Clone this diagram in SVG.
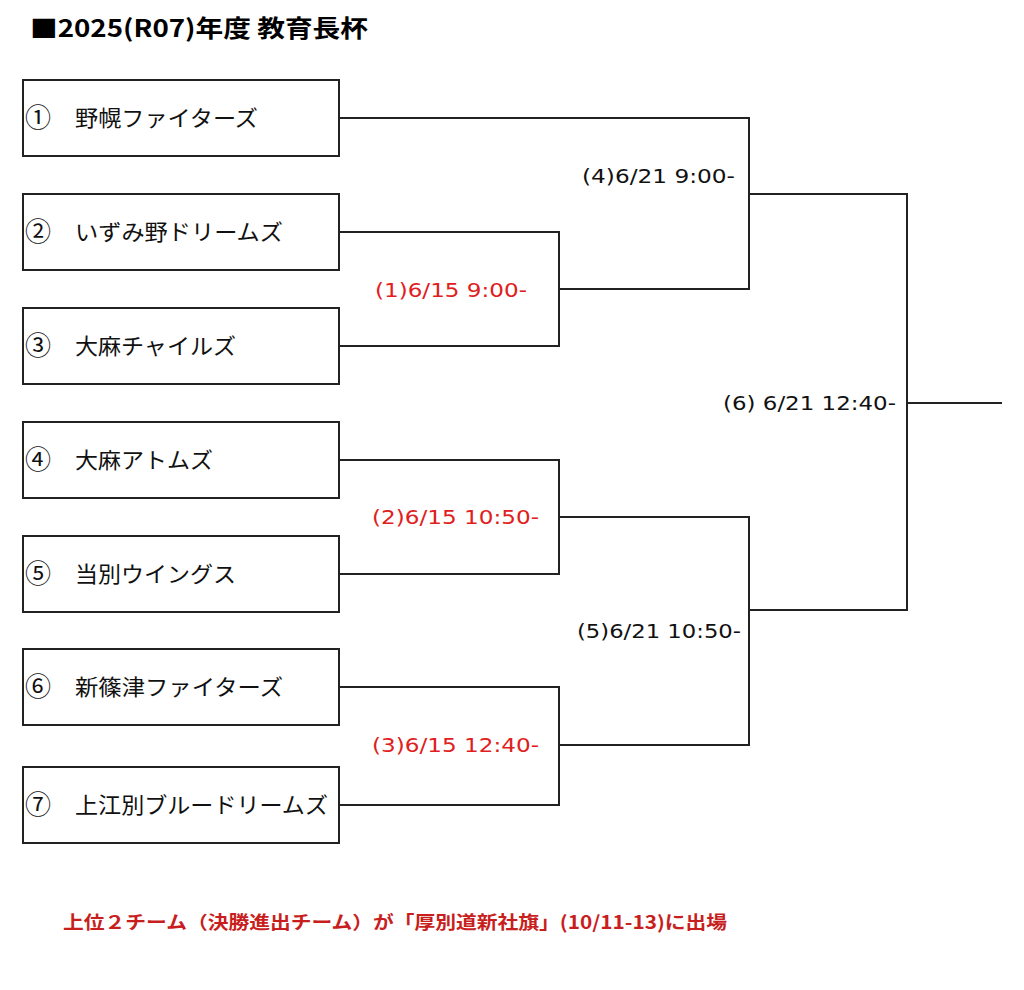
<svg xmlns="http://www.w3.org/2000/svg" width="1024" height="990" viewBox="0 0 1024 990">
<style>
.box{fill:#fff;stroke:#222;stroke-width:2}
.ln{fill:none;stroke:#222;stroke-width:2}
.team{font-family:"Noto Sans CJK JP","Noto Sans",sans-serif;font-size:22px;fill:#111}
.num{font-family:"Noto Sans CJK JP","DejaVu Sans",sans-serif;font-size:26px;fill:#111}
.lbl{font-family:"DejaVu Sans","Noto Sans",sans-serif;font-size:19px;fill:#111}
.red{fill:#e02020}
.title{font-family:"Noto Sans CJK JP",sans-serif;font-size:24px;font-weight:bold;fill:#000}
.foot{font-family:"Noto Sans CJK JP","Liberation Sans",sans-serif;font-size:18px;font-weight:bold;fill:#c81e1e}
</style>
<rect width="1024" height="990" fill="#fff"/>
<text class="title" x="30" y="37" textLength="338" lengthAdjust="spacingAndGlyphs">■2025(R07)年度 教育長杯</text>

<g id="connectors">
<path class="ln" d="M339,118 H749 V289 H559"/>
<path class="ln" d="M339,232 H559 V346 H339"/>
<path class="ln" d="M749,194 H907 V610 H749"/>
<path class="ln" d="M907,403 H1002"/>
<path class="ln" d="M339,460 H559 V574 H339"/>
<path class="ln" d="M559,517 H749 V745 H559"/>
<path class="ln" d="M339,687 H559 V805 H339"/>
</g>

<g id="team1"><rect class="box" x="23" y="80" width="316" height="76"/><text class="num" x="25" y="127">①</text><text class="team" x="75" y="126" textLength="183" lengthAdjust="spacingAndGlyphs">野幌ファイターズ</text></g>
<g id="team2"><rect class="box" x="23" y="194" width="316" height="76"/><text class="num" x="25" y="241">②</text><text class="team" x="75" y="240" textLength="208" lengthAdjust="spacingAndGlyphs">いずみ野ドリームズ</text></g>
<g id="team3"><rect class="box" x="23" y="308" width="316" height="76"/><text class="num" x="25" y="355">③</text><text class="team" x="75" y="354" textLength="161" lengthAdjust="spacingAndGlyphs">大麻チャイルズ</text></g>
<g id="team4"><rect class="box" x="23" y="422" width="316" height="76"/><text class="num" x="25" y="469">④</text><text class="team" x="75" y="468" textLength="138" lengthAdjust="spacingAndGlyphs">大麻アトムズ</text></g>
<g id="team5"><rect class="box" x="23" y="536" width="316" height="76"/><text class="num" x="25" y="583">⑤</text><text class="team" x="75" y="582" textLength="161" lengthAdjust="spacingAndGlyphs">当別ウイングス</text></g>
<g id="team6"><rect class="box" x="23" y="649" width="316" height="76"/><text class="num" x="25" y="696">⑥</text><text class="team" x="75" y="695" textLength="208" lengthAdjust="spacingAndGlyphs">新篠津ファイターズ</text></g>
<g id="team7"><rect class="box" x="23" y="767" width="316" height="76"/><text class="num" x="25" y="814">⑦</text><text class="team" x="75" y="813" textLength="253" lengthAdjust="spacingAndGlyphs">上江別ブルードリームズ</text></g>

<g id="labels">
<text class="lbl" x="582" y="183" textLength="153" lengthAdjust="spacingAndGlyphs">(4)6/21 9:00-</text>
<text class="lbl red" x="375" y="297" textLength="152" lengthAdjust="spacingAndGlyphs">(1)6/15 9:00-</text>
<text class="lbl red" x="372" y="524" textLength="167" lengthAdjust="spacingAndGlyphs">(2)6/15 10:50-</text>
<text class="lbl" x="577" y="638" textLength="164" lengthAdjust="spacingAndGlyphs">(5)6/21 10:50-</text>
<text class="lbl red" x="372" y="752" textLength="167" lengthAdjust="spacingAndGlyphs">(3)6/15 12:40-</text>
<text class="lbl" x="723" y="410" textLength="173" lengthAdjust="spacingAndGlyphs">(6) 6/21 12:40-</text>
</g>

<text class="foot" x="63" y="929" textLength="664" lengthAdjust="spacingAndGlyphs">上位２チーム（決勝進出チーム）が「厚別道新社旗」(10/11-13)に出場</text>
</svg>
